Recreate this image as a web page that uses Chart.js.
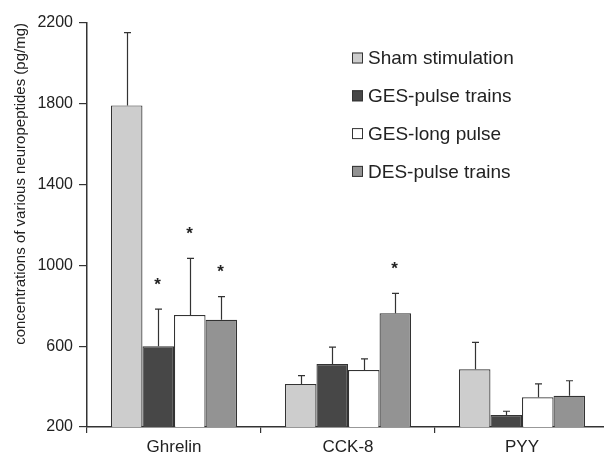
<!DOCTYPE html>
<html>
<head>
<meta charset="utf-8">
<script src="https://cdn.jsdelivr.net/npm/chart.js@4/dist/chart.umd.min.js"></script>
<style>
html,body{margin:0;padding:0;overflow:hidden;background:#fff;}
#wrap{width:610px;height:455px;}
</style>
</head>
<body>
<div id="wrap"><canvas id="c" width="610" height="455"></canvas></div>
<script>
const categories = ['Ghrelin', 'CCK-8', 'PYY'];
const seriesLabels = ['Sham stimulation', 'GES-pulse trains', 'GES-long pulse', 'DES-pulse trains'];
const shamValues = [1792, 413, 486];
const shamErr = [360, 41, 133];
const gesPulseValues = [600, 512, 259];
const gesPulseErr = [184, 83, 19];
const gesLongValues = [754, 482, 347];
const gesLongErr = [281, 55, 66];
const desValues = [731, 763, 355];
const desErr = [114, 99, 74];
const shamSig = [false, false, false];
const gesPulseSig = [true, false, false];
const gesLongSig = [true, false, false];
const desSig = [true, true, false];
const yTicks = [200, 600, 1000, 1400, 1800, 2200];

const FONT = '"Liberation Sans", Arial, Helvetica, sans-serif';
const INK = '#333333';
const fills = ['#cdcdcd', '#474747', '#ffffff', '#939393'];
const allValues = [shamValues, gesPulseValues, gesLongValues, desValues];
const allErr = [shamErr, gesPulseErr, gesLongErr, desErr];
const allSig = [shamSig, gesPulseSig, gesLongSig, desSig];

const datasets = seriesLabels.map((lab, i) => ({
  label: lab,
  data: allValues[i],
  backgroundColor: fills[i],
  borderColor: INK,
  borderWidth: 1.2,
  borderSkipped: 'bottom',
  categoryPercentage: 0.725,
  barPercentage: 1.0
}));

const extras = {
  id: 'extras',
  afterDatasetsDraw(chart) {
    const ctx = chart.ctx;
    const ys = chart.scales.y;
    ctx.save();
    ctx.strokeStyle = INK;
    ctx.lineWidth = 1.2;
    allValues.forEach((vals, i) => {
      const meta = chart.getDatasetMeta(i);
      vals.forEach((v, j) => {
        const el = meta.data[j];
        const x = Math.round(el.x) + 0.5;
        const yTop = ys.getPixelForValue(v);
        const yErr = ys.getPixelForValue(v + allErr[i][j]);
        ctx.beginPath();
        ctx.moveTo(x, yTop);
        ctx.lineTo(x, yErr);
        ctx.moveTo(x - 3.5, yErr);
        ctx.lineTo(x + 3.5, yErr);
        ctx.stroke();
        if (allSig[i][j]) {
          ctx.fillStyle = '#222';
          ctx.font = 'bold 17px ' + FONT;
          ctx.textAlign = 'center';
          ctx.textBaseline = 'middle';
          ctx.fillText('*', x - 1, yErr - 24);
        }
      });
    });
    ctx.restore();
  },
  afterDraw(chart) {
    const ctx = chart.ctx;
    ctx.save();
    const bx = 352, by0 = 58, gap = 37.8, box = 11;
    seriesLabels.forEach((lab, i) => {
      const cy = by0 + i * gap;
      ctx.fillStyle = fills[i];
      ctx.fillRect(bx, cy - box / 2, box, box);
      ctx.strokeStyle = INK;
      ctx.lineWidth = 1;
      ctx.strokeRect(bx + 0.5, cy - box / 2 + 0.5, box - 1, box - 1);
      ctx.fillStyle = '#222';
      ctx.font = '19px ' + FONT;
      ctx.textAlign = 'left';
      ctx.textBaseline = 'middle';
      ctx.fillText(lab, bx + 16, cy + 1);
    });
    ctx.restore();
  }
};

new Chart(document.getElementById('c'), {
  type: 'bar',
  data: { labels: categories, datasets },
  options: {
    responsive: false,
    animation: false,
    devicePixelRatio: 1,
    layout: { padding: { left: 0, top: 23, right: 1, bottom: 0 } },
    plugins: { legend: { display: false }, tooltip: { enabled: false } },
    scales: {
      x: {
        offset: true,
        grid: { display: true, offset: true, drawOnChartArea: false, drawTicks: true, tickLength: 6, color: INK, lineWidth: 1.2 },
        border: { display: true, color: INK, width: 1.5 },
        ticks: { color: '#222', font: { family: FONT, size: 17 }, padding: 4 },
        afterFit(s) { s.height = 28; }
      },
      y: {
        min: 200, max: 2200,
        afterBuildTicks(s) { s.ticks = yTicks.map(v => ({ value: v })); },
        grid: { display: true, drawOnChartArea: false, drawTicks: true, tickLength: 8, color: INK, lineWidth: 1.2 },
        border: { display: true, color: INK, width: 1.5 },
        ticks: { color: '#222', font: { family: FONT, size: 16 }, padding: 6, callback: (v) => String(v) },
        title: { display: true, align: 'end', text: 'concentrations of various neuropeptides (pg/mg)', color: '#222', font: { family: FONT, size: 15 }, padding: { top: 12, bottom: 0 } },
        afterFit(s) { s.width = 87; }
      }
    }
  },
  plugins: [extras]
});
</script>
</body>
</html>
